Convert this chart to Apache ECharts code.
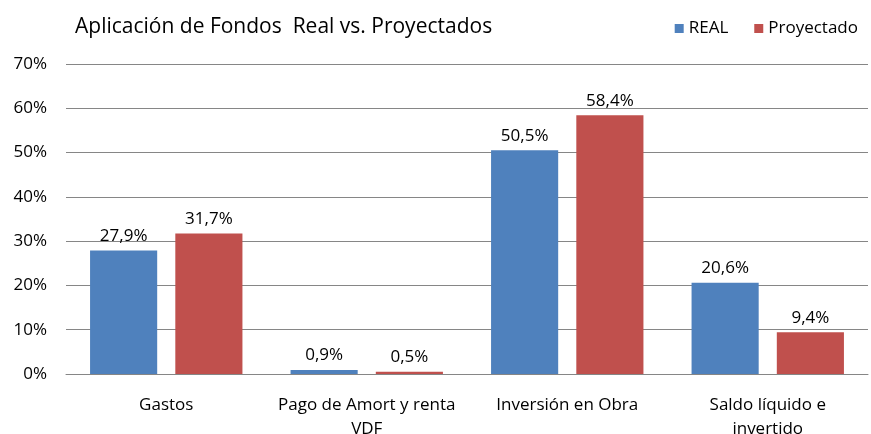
<!DOCTYPE html>
<html>
<head>
<meta charset="utf-8">
<script src="https://cdn.jsdelivr.net/npm/echarts@6/dist/echarts.min.js"></script>
<style>
  html, body { margin: 0; padding: 0; background: #fff; }
  #chart { width: 871px; height: 434px; }
</style>
</head>
<body>
<div id="chart"></div>
<script>
// datos
const categories = ['Gastos', 'Pago de Amort y renta\nVDF', 'Inversión en Obra', 'Saldo líquido e\ninvertido'];
const realValues = [27.9, 0.9, 50.5, 20.6];
const proyValues = [31.7, 0.5, 58.4, 9.4];

const fmt = (v) => v.toFixed(1).replace('.', ',') + '%';
const font = 'Open Sans';

var myChart = echarts.init(document.getElementById('chart'));

const option = {
  animation: false,
  textStyle: { fontFamily: font },
  title: {
    text: 'Aplicación de Fondos  Real vs. Proyectados',
    left: 70,
    top: 12,
    textStyle: { fontSize: 21, fontWeight: 'normal', color: '#000', fontFamily: font }
  },
  legend: {
    right: 8,
    top: 15,
    itemWidth: 9,
    itemHeight: 9,
    itemGap: 26,
    icon: 'rect',
    textStyle: { fontSize: 17, color: '#000', fontFamily: font },
    data: ['REAL', 'Proyectado']
  },
  grid: { left: 66, right: 3, top: 64, bottom: 60, outerBoundsMode: 'none' },
  xAxis: {
    type: 'category',
    data: categories,
    axisTick: { show: false },
    axisLine: { lineStyle: { color: '#868686' } },
    axisLabel: { color: '#000', fontSize: 17, margin: 19, lineHeight: 24, interval: 0 }
  },
  yAxis: {
    type: 'value',
    min: 0,
    max: 70,
    interval: 10,
    axisLabel: { formatter: '{value}%', color: '#000', fontSize: 17, margin: 19 },
    axisLine: { show: false },
    axisTick: { show: false },
    splitLine: { lineStyle: { color: '#868686' } }
  },
  series: [
    {
      name: 'REAL',
      type: 'bar',
      data: realValues,
      barGap: '27%',
      barCategoryGap: '24%',
      itemStyle: { color: '#4F81BD' },
      label: { show: true, position: 'top', distance: 6, color: '#000', fontSize: 17, formatter: (p) => fmt(p.value) }
    },
    {
      name: 'Proyectado',
      type: 'bar',
      data: proyValues,
      itemStyle: { color: '#C0504D' },
      label: { show: true, position: 'top', distance: 6, color: '#000', fontSize: 17, formatter: (p) => fmt(p.value) }
    }
  ]
};

myChart.setOption(option);
</script>
</body>
</html>
